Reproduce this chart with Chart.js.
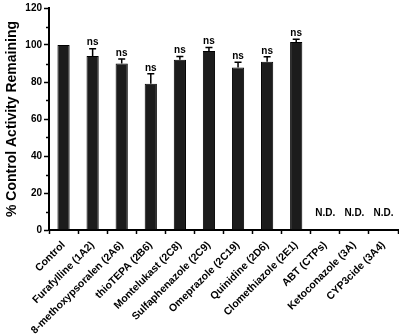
<!DOCTYPE html>
<html>
<head>
<meta charset="utf-8">
<script src="https://cdn.jsdelivr.net/npm/chart.js@4"></script>
<style>
  html, body { margin: 0; padding: 0; background: #fff; }
  #wrap { width: 399px; height: 334px; }
</style>
</head>
<body>
<div id="wrap"><canvas id="chart"></canvas></div>
<script>
const categories = ['Control', 'Furafylline (1A2)', '8-methoxypsoralen (2A6)', 'thioTEPA (2B6)', 'Montelukast (2C8)',
  'Sulfaphenazole (2C9)', 'Omeprazole (2C19)', 'Quinidine (2D6)', 'Clomethiazole (2E1)', 'ABT (CTPs)',
  'Ketoconazole (3A)', 'CYP3cide (3A4)']
const activity = [100, 94, 90, 79, 92, 96.8, 87.8, 91, 101.6, null, null, null]
const errorUp = [0, 4, 2.5, 5.4, 1.8, 1.8, 2.9, 2.6, 1.5, 0, 0, 0]
const notes = ['', 'ns', 'ns', 'ns', 'ns', 'ns', 'ns', 'ns', 'ns', 'N.D.', 'N.D.', 'N.D.']
const yMinorTicks = [10, 30, 50, 70, 90, 110]

const FONT = "'Liberation Sans', Arial, sans-serif"

// error bars (upper only), ns / N.D. notes and the minor y ticks
const errorBars = {
  id: 'errorBars',
  afterDatasetsDraw(chart) {
    let c = chart.ctx
    let y = chart.scales.y
    let meta = chart.getDatasetMeta(0)
    c.save()
    c.strokeStyle = '#000'
    c.lineWidth = 1.5
    c.fillStyle = '#000'

    yMinorTicks.forEach(v => {
      let py = Math.round(y.getPixelForValue(v)) + 0.5
      c.beginPath()
      c.moveTo(y.right - 3, py)
      c.lineTo(y.right, py)
      c.stroke()
    })

    c.font = 'bold 10px ' + FONT
    c.textAlign = 'center'
    c.textBaseline = 'bottom'
    meta.data.forEach((bar, i) => {
      let x = bar.x
      if (activity[i] === null) {
        c.fillText(notes[i], x, y.getPixelForValue(6.5))
        return
      }
      let top = y.getPixelForValue(activity[i] + errorUp[i])
      if (errorUp[i] > 0) {
        c.beginPath()
        c.moveTo(x, y.getPixelForValue(activity[i]))
        c.lineTo(x, top)
        c.moveTo(x - 3.5, top)
        c.lineTo(x + 3.5, top)
        c.stroke()
      }
      if (notes[i]) c.fillText(notes[i], x, top - 1)
    })
    c.restore()
  }
}

let ctx = document.getElementById('chart').getContext('2d')
let myChart = new Chart(ctx, {
  type: 'bar',
  data: {
    labels: categories,
    datasets: [{
      data: activity,
      backgroundColor: '#1c1c1c',
      borderColor: '#000',
      borderWidth: 1,
      categoryPercentage: 1,
      barPercentage: 0.42
    }]
  },
  options: {
    responsive: true,
    maintainAspectRatio: false,
    animation: false,
    layout: { padding: { top: 6, right: 1, left: 0, bottom: 0 } },
    plugins: {
      legend: { display: false },
      tooltip: { enabled: false }
    },
    scales: {
      x: {
        offset: true,
        border: { color: '#000', width: 2 },
        grid: { display: true, drawOnChartArea: false, color: '#000', tickLength: 4, tickWidth: 1.5 },
        ticks: {
          color: '#000',
          font: { family: FONT, size: 10.5, weight: 'bold' },
          minRotation: 45,
          maxRotation: 45,
          autoSkip: false,
          padding: 5
        },
        afterFit: scale => { scale.height = 104 }
      },
      y: {
        min: 0,
        max: 120,
        border: { color: '#000', width: 2 },
        grid: { display: true, drawOnChartArea: false, color: '#000', tickLength: 5, tickWidth: 1.5 },
        ticks: {
          stepSize: 20,
          color: '#000',
          padding: 2,
          font: { family: FONT, size: 10, weight: 'bold' }
        },
        title: {
          display: true,
          text: '% Control Activity Remaining',
          color: '#000',
          font: { family: FONT, size: 14, weight: 'bold' },
          padding: { top: 4, bottom: 0 }
        },
        afterFit: scale => { scale.width = 49 }
      }
    }
  },
  plugins: [errorBars]
})
</script>
</body>
</html>
